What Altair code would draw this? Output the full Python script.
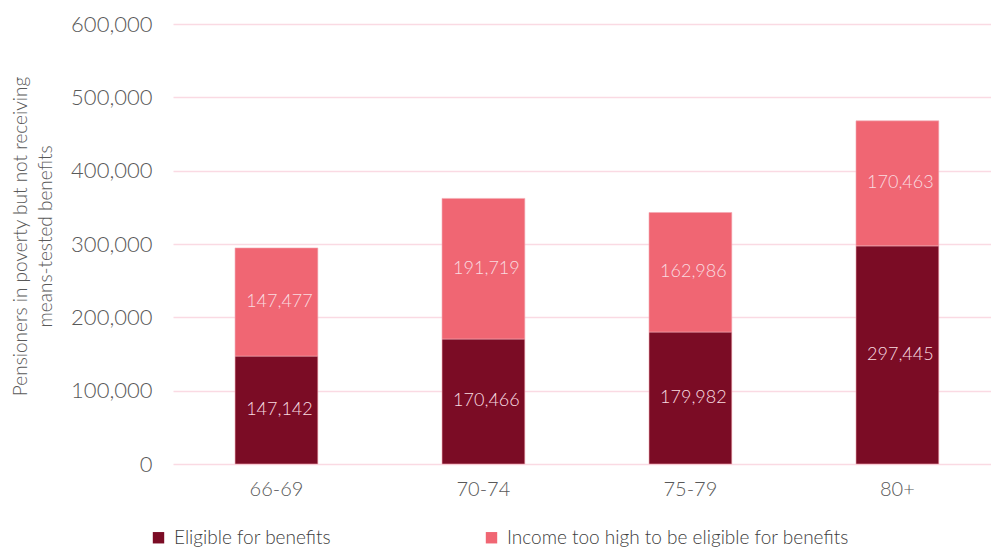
import altair as alt
import pandas as pd

age_groups = ["66-69", "70-74", "75-79", "80+"]
eligible = [147142, 170466, 179982, 297445]
too_high = [147477, 191719, 162986, 170463]
series_names = ["Eligible for benefits", "Income too high to be eligible for benefits"]
series_colors = ["#7B0C25", "#F06673"]
y_ticks = [0, 100000, 200000, 300000, 400000, 500000, 600000]

rows = []
for i, g in enumerate(age_groups):
    rows.append({"age": g, "series": series_names[0], "value": eligible[i], "order": 0})
    rows.append({"age": g, "series": series_names[1], "value": too_high[i], "order": 1})
df = pd.DataFrame(rows)

FONT = "Lato"
GREY = "#595959"

x_enc = alt.X(
    "age:N",
    sort=age_groups,
    title=None,
    scale=alt.Scale(paddingInner=0.6, paddingOuter=0.276, align=0.543),
    axis=alt.Axis(
        labelAngle=0, labelFontSize=20, labelColor=GREY, labelFont=FONT,
        labelFontWeight=300, domain=False, ticks=False, labelPadding=15,
    ),
)

y_axis = alt.Axis(
    values=y_ticks, format=",.0f", labelFontSize=22, labelColor=GREY,
    labelFont=FONT, labelFontWeight=300, domain=False, ticks=False,
    tickSize=0, labelPadding=21, gridColor="#FADAE3", gridWidth=1.5,
    title=["Pensioners in poverty but not receiving", "means-tested benefits"],
    titleFontSize=19, titleFont=FONT, titleFontWeight=300,
    titleColor=GREY, titleX=-162, titleY=212, titleBaseline="top",
    titleAlign="center", titleAngle=270, titleLineHeight=25,
)
y_scale = alt.Scale(domain=[0, 600000])

base = alt.Chart(df).encode(x=x_enc)

bars = base.mark_bar(stroke="#F3A9B4", strokeWidth=0.6).encode(
    y=alt.Y("value:Q", stack="zero", scale=y_scale, axis=y_axis),
    color=alt.Color(
        "series:N",
        scale=alt.Scale(domain=series_names, range=series_colors),
        legend=alt.Legend(
            title=None, orient="none", direction="horizontal",
            legendX=-24, legendY=504, symbolType="square", symbolSize=130,
            symbolStrokeWidth=0, labelFontSize=19, labelFont=FONT,
            labelFontWeight=300, labelColor="#404040", columnPadding=150,
            labelLimit=500, symbolOffset=0, labelOffset=6,
        ),
    ),
    order=alt.Order("order:Q"),
)

labels = base.transform_stack(
    stack="value", groupby=["age"], as_=["v0", "v1"], sort=[alt.SortField("order")]
).transform_calculate(
    mid="(datum.v0 + datum.v1) / 2"
).mark_text(
    color="#F9DCE0", fontSize=18, font=FONT, fontWeight=300, dx=3
).encode(
    y=alt.Y("mid:Q", scale=y_scale, axis=y_axis),
    text=alt.Text("value:Q", format=","),
)

chart = alt.layer(bars, labels).properties(
    width=818,
    height=440,
    autosize=alt.AutoSizeParams(type="none"),
    padding={"left": 173, "top": 24, "right": 0, "bottom": 89},
).configure(background="white").configure_view(stroke=None)

chart.save("out.html", embed_options={"renderer": "svg", "actions": False})
